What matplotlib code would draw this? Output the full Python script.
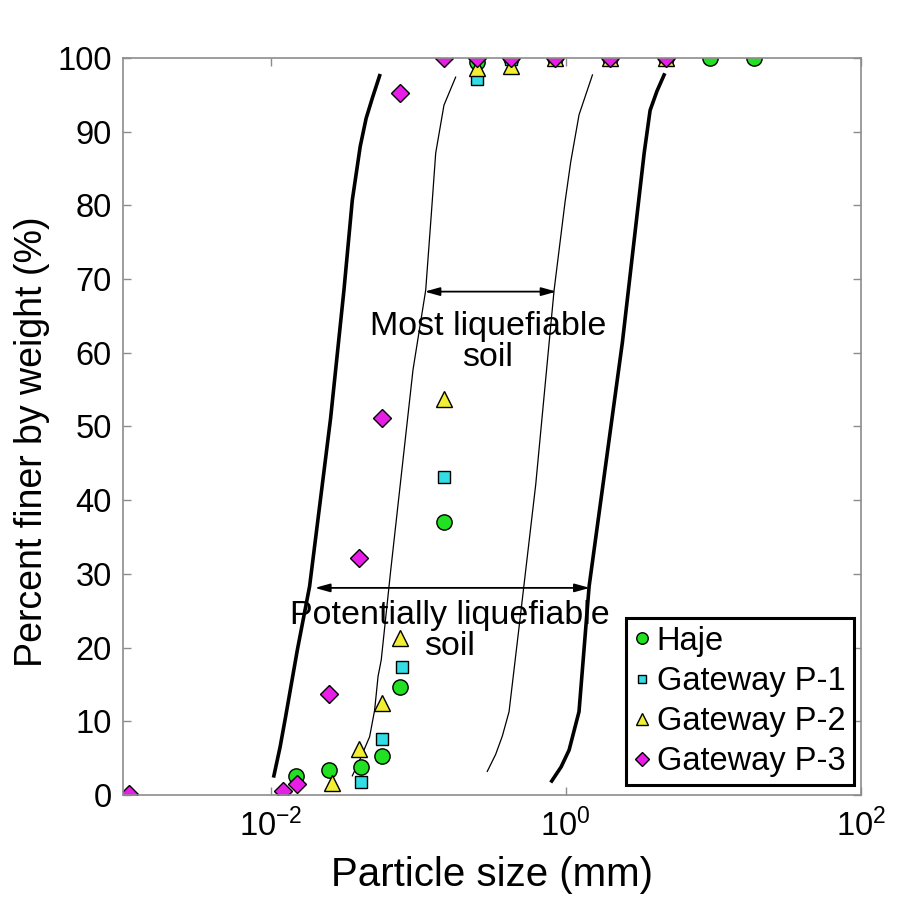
import numpy as np
import matplotlib
matplotlib.use('Agg')
from matplotlib import pyplot as plt
from matplotlib.ticker import NullLocator

plt.rcParams['font.family'] = ['Liberation Sans', 'DejaVu Sans']
plt.rcParams['mathtext.fontset'] = 'custom'
plt.rcParams['mathtext.rm'] = 'Liberation Sans'
plt.rcParams['mathtext.default'] = 'regular'

# gradation data (sieve size in mm, percent passing)
haje_size = [19.0, 9.5, 4.75, 2.0, 0.85, 0.425, 0.25, 0.15, 0.075, 0.057, 0.041, 0.025, 0.0149]
haje_pass = [100, 100, 100, 100, 100, 100, 99.4, 37.1, 14.6, 5.3, 3.8, 3.4, 2.6]

p1_size = [4.75, 2.0, 0.85, 0.425, 0.25, 0.15, 0.078, 0.057, 0.041]
p1_pass = [100, 100, 100, 99.8, 97.2, 43.1, 17.4, 7.6, 1.7]

p2_size = [4.75, 2.0, 0.85, 0.425, 0.25, 0.15, 0.075, 0.057, 0.040, 0.026]
p2_pass = [100, 100, 100, 98.9, 98.6, 53.7, 21.3, 12.5, 6.2, 1.6]

p3_size = [4.75, 2.0, 0.85, 0.425, 0.25, 0.15, 0.075, 0.057, 0.040, 0.025, 0.0151, 0.0121, 0.0011]
p3_pass = [100, 100, 100, 100, 100, 100, 95.3, 51.1, 32.2, 13.7, 1.5, 0.5, 0.2]

# boundaries of liquefiable soils
pot_left_size = [0.01053, 0.01160, 0.01264, 0.01516, 0.01838, 0.02551, 0.03142, 0.03579,
                 0.04050, 0.04440, 0.04900, 0.05483]
pot_left_pass = [2.6, 6.5, 10.6, 19.6, 28.3, 51.1, 68.5, 80.7, 88.0, 91.8, 94.6, 97.6]

most_left_size = [0.0358, 0.0401, 0.0469, 0.0507, 0.0535, 0.0562, 0.0652, 0.0923, 0.1125,
                  0.1230, 0.1315, 0.1496, 0.1795]
most_left_pass = [2.6, 4.7, 7.9, 11.5, 16.1, 18.3, 30.5, 57.7, 68.5, 79.0, 87.1, 93.6, 97.4]

most_right_size = [0.294, 0.335, 0.372, 0.413, 0.483, 0.626, 0.834, 0.990, 1.081, 1.231, 1.517]
most_right_pass = [3.2, 5.5, 8.0, 11.3, 22.8, 42.1, 68.5, 80.5, 85.9, 92.3, 97.7]

pot_right_size = [0.804, 0.930, 1.054, 1.23, 1.44, 2.42, 3.40, 3.73, 4.15, 4.64]
pot_right_pass = [1.9, 3.8, 6.1, 11.3, 28.3, 61.4, 87.1, 92.9, 95.5, 97.7]

fig = plt.figure(figsize=(9.11, 8.99), dpi=100)
ax = fig.add_axes([0.135, 0.1157, 0.81, 0.8198])

ax.plot(pot_left_size, pot_left_pass, color='black', linewidth=2.6)
ax.plot(most_left_size, most_left_pass, color='black', linewidth=0.9)
ax.plot(most_right_size, most_right_pass, color='black', linewidth=0.9)
ax.plot(pot_right_size, pot_right_pass, color='black', linewidth=2.6)

ax.plot(haje_size, haje_pass, 'o', color='#22e022', markeredgecolor='black', markersize=11,
        markeredgewidth=1.0, label='Haje')
ax.plot(p1_size, p1_pass, 's', color='#33dde6', markeredgecolor='black', markersize=8.5,
        markeredgewidth=1.0, label='Gateway P-1')
ax.plot(p2_size, p2_pass, '^', color='#f2ee33', markeredgecolor='black', markersize=11,
        markeredgewidth=1.0, label='Gateway P-2')
ax.plot(p3_size, p3_pass, 'D', color='#e61ee6', markeredgecolor='black', markersize=9,
        markeredgewidth=1.0, label='Gateway P-3')

arrow = dict(arrowstyle='<|-|>,head_length=0.9,head_width=0.25', color='black', linewidth=1.3,
             shrinkA=0, shrinkB=0)
ax.annotate('', xy=(0.1106, 68.3), xytext=(0.865, 68.3), arrowprops=arrow)
ax.annotate('', xy=(0.01995, 28.1), xytext=(1.455, 28.1), arrowprops=arrow)
ax.text(0.296, 61.4, 'Most liquefiable\nsoil', ha='center', va='center', fontsize=24.5,
        linespacing=1.0)
ax.text(0.1637, 22.2, 'Potentially liquefiable\nsoil', ha='center', va='center', fontsize=24.5,
        linespacing=1.0)

ax.set_xscale('log')
ax.set_xlim(1e-3, 1e2)
ax.set_ylim(0, 100)
ax.set_xticks([1e-2, 1e0, 1e2])
ax.set_xticklabels(['$10^{-2}$', '$10^{0}$', '$10^{2}$'])
ax.xaxis.set_minor_locator(NullLocator())
ax.set_yticks(np.arange(0, 101, 10))

spine_col = '#8c8c8c'
for s in ax.spines.values():
    s.set_color(spine_col)
    s.set_linewidth(1.2)
ax.tick_params(direction='in', length=6, width=1.0, color=spine_col, labelsize=23.5,
               top=True, right=True)
ax.tick_params(axis='x', pad=10)
ax.tick_params(axis='y', pad=8)

ax.set_xlabel('Particle size (mm)', fontsize=29)
ax.set_ylabel('Percent finer by weight (%)', fontsize=27)
ax.xaxis.set_label_coords(0.5, -0.083)
ax.yaxis.set_label_coords(-0.099, 0.48)

leg = ax.legend(loc='lower right', bbox_to_anchor=(0.99, 0.013), borderaxespad=0, fontsize=23.5,
                handlelength=0.5, handletextpad=0.2, labelspacing=0.28, borderpad=0.25,
                markerscale=0.75, fancybox=False, framealpha=1)
leg.get_frame().set_edgecolor('black')
leg.get_frame().set_linewidth(2.2)

fig.savefig('out.png', dpi=100)
